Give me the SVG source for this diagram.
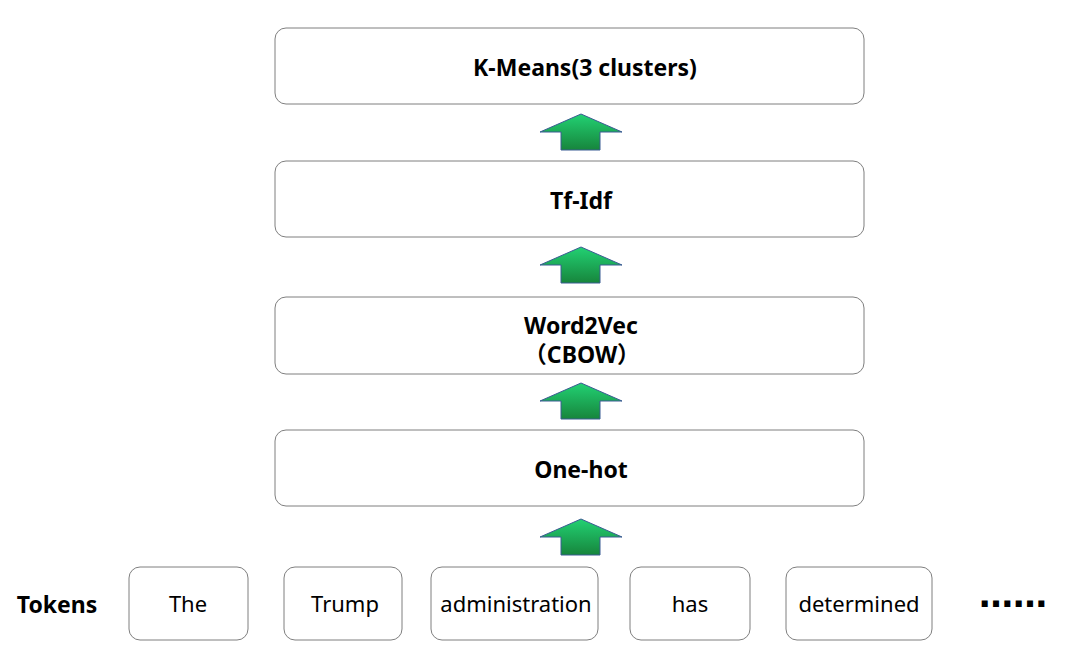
<svg xmlns="http://www.w3.org/2000/svg" width="1090" height="646" viewBox="0 0 1090 646">
<defs>
<linearGradient id="g" x1="0" y1="0" x2="0" y2="1">
<stop offset="0" stop-color="#22d173"/>
<stop offset="1" stop-color="#17853c"/>
</linearGradient>
<path id="arr" d="M0,0 L41,18 L19,18 L19,36 L-20,36 L-20,18 L-41,18 Z"/>
</defs>
<style>
.box{fill:#fff;stroke:#7f7f7f;stroke-width:1}
.b{font-family:"Noto Sans","Noto Sans CJK SC",sans-serif;font-weight:bold;font-size:23px;fill:#000;text-anchor:middle}
.t{font-family:"Noto Sans","Noto Sans CJK SC",sans-serif;font-size:22px;fill:#000;text-anchor:middle}
.a{fill:url(#g);stroke:#3b5c93;stroke-width:1}
</style>
<rect width="1090" height="646" fill="#fff"/>
<g id="kmeans"><rect class="box" x="275" y="28" width="589" height="76" rx="11"/><text class="b" x="585" y="76">K-Means(3 clusters)</text></g>
<g id="tfidf"><rect class="box" x="275" y="161" width="589" height="76" rx="11"/><text class="b" x="581" y="209">Tf-Idf</text></g>
<g id="word2vec"><rect class="box" x="275" y="297" width="589" height="77" rx="11"/><text class="b" x="581" y="334">Word2Vec</text><text class="b" x="582" y="363">（CBOW）</text></g>
<g id="onehot"><rect class="box" x="275" y="430" width="589" height="76" rx="11"/><text class="b" x="581" y="478">One-hot</text></g>
<g id="tokens-label"><text class="b" x="57" y="613">Tokens</text></g>
<g id="tok-the"><rect class="box" x="129" y="567" width="119" height="73" rx="11"/><text class="t" x="188" y="612">The</text></g>
<g id="tok-trump"><rect class="box" x="284" y="567" width="118" height="73" rx="11"/><text class="t" x="345" y="612">Trump</text></g>
<g id="tok-admin"><rect class="box" x="431" y="567" width="167" height="73" rx="11"/><text class="t" x="516" y="612">administration</text></g>
<g id="tok-has"><rect class="box" x="630" y="567" width="120" height="73" rx="11"/><text class="t" x="690" y="612">has</text></g>
<g id="tok-det"><rect class="box" x="786" y="567" width="146" height="73" rx="11"/><text class="t" x="859" y="612">determined</text></g>
<g id="ellipsis"><text x="1013" y="607" style="font-family:'DejaVu Sans',sans-serif;font-weight:bold;font-size:34px;text-anchor:middle;fill:#000">……</text></g>
<g id="connectors">
<use href="#arr" class="a" x="581" y="114"/>
<use href="#arr" class="a" x="581" y="247"/>
<use href="#arr" class="a" x="581" y="383"/>
<use href="#arr" class="a" x="581" y="519"/>
</g>
</svg>
